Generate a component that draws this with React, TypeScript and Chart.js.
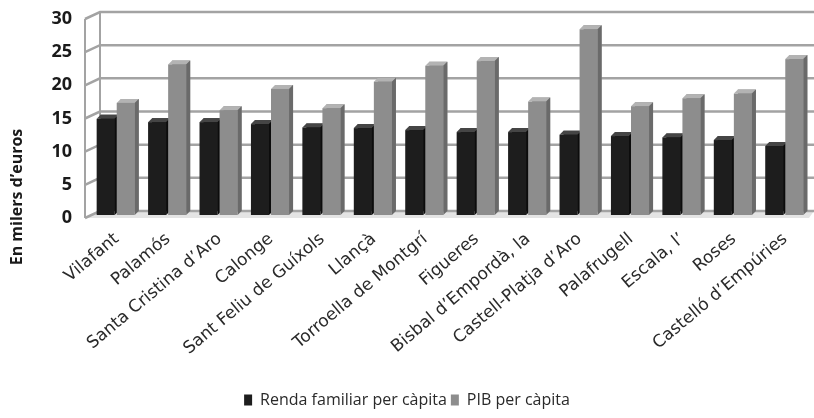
import React, { useEffect, useRef } from 'react';
import { Chart, registerables } from 'chart.js';

Chart.register(...registerables);

const categories = [
  'Vilafant',
  'Palamós',
  'Santa Cristina d’Aro',
  'Calonge',
  'Sant Feliu de Guíxols',
  'Llançà',
  'Torroella de Montgrí',
  'Figueres',
  'Bisbal d’Empordà, la',
  'Castell-Platja d’Aro',
  'Palafrugell',
  'Escala, l’',
  'Roses',
  'Castelló d’Empúries',
];

const rendaFamiliar = [14.5, 14.0, 14.0, 13.7, 13.2, 13.1, 12.8, 12.5, 12.5, 12.1, 11.9, 11.7, 11.3, 10.4];
const pibPerCapita = [16.9, 22.7, 15.8, 19.0, 16.1, 20.1, 22.5, 23.2, 17.1, 28.0, 16.4, 17.6, 18.3, 23.5];

const seriesNames = ['Renda familiar per càpita', 'PIB per càpita'];
const yTicks = [0, 5, 10, 15, 20, 25, 30];
const yTitle = 'En milers d’euros';

const DEPTH = 4;
const FACES = [
  { front: '#1d1d1d', top: '#454545', side: '#0c0c0c' },
  { front: '#8d8d8d', top: '#b3b3b3', side: '#6a6a6a' },
];

const wallPlugin = {
  id: 'wall3d',
  beforeDatasetsDraw(chart: any) {
    const { ctx, chartArea } = chart;
    const { left, right, top, bottom } = chartArea;
    const y = chart.scales.y;
    const back = left + 6;
    const front = left - 9;
    const off = 7;
    ctx.save();
    ctx.fillStyle = '#e4e4e4';
    ctx.beginPath();
    ctx.moveTo(front, bottom + off);
    ctx.lineTo(back, bottom);
    ctx.lineTo(right, bottom);
    ctx.lineTo(right - 5, bottom + off);
    ctx.closePath();
    ctx.fill();
    ctx.strokeStyle = '#a3a3a3';
    ctx.lineWidth = 2.5;
    yTicks.forEach((v) => {
      const py = y.getPixelForValue(v);
      ctx.beginPath();
      ctx.moveTo(front, py + off);
      ctx.lineTo(back, py);
      ctx.lineTo(right, py);
      ctx.stroke();
    });
    ctx.lineWidth = 2;
    ctx.beginPath();
    ctx.moveTo(back, top);
    ctx.lineTo(back, bottom);
    ctx.moveTo(front, top + off);
    ctx.lineTo(front, bottom + off);
    ctx.stroke();
    ctx.restore();
  },
};

const bar3dPlugin = {
  id: 'bar3d',
  afterDatasetsDraw(chart: any) {
    const ctx = chart.ctx;
    const metas = [chart.getDatasetMeta(0), chart.getDatasetMeta(1)];
    ctx.save();
    for (let i = 0; i < categories.length; i++) {
      metas.forEach((meta: any, di: number) => {
        const el = meta.data[i];
        if (!el) return;
        const { x, y, base, width } = el.getProps(['x', 'y', 'base', 'width'], true);
        const x0 = x - width / 2;
        const x1 = x + width / 2;
        const fx0 = x0 - DEPTH;
        const fx1 = x1 - DEPTH;
        const fy = y + DEPTH;
        const fb = base + DEPTH;
        const c = FACES[di];
        ctx.fillStyle = c.top;
        ctx.beginPath();
        ctx.moveTo(fx0, fy);
        ctx.lineTo(fx1, fy);
        ctx.lineTo(x1, y);
        ctx.lineTo(x0, y);
        ctx.closePath();
        ctx.fill();
        ctx.fillStyle = c.side;
        ctx.beginPath();
        ctx.moveTo(fx1, fy);
        ctx.lineTo(x1, y);
        ctx.lineTo(x1, base);
        ctx.lineTo(fx1, fb);
        ctx.closePath();
        ctx.fill();
        ctx.fillStyle = c.front;
        ctx.fillRect(fx0, fy, width, fb - fy);
      });
    }
    ctx.restore();
  },
};

const yTitlePlugin = {
  id: 'yTitle',
  afterDraw(chart: any) {
    const ctx = chart.ctx;
    ctx.save();
    ctx.translate(17, 197);
    ctx.rotate(-Math.PI / 2);
    ctx.font = 'bold 16px "Open Sans", sans-serif';
    ctx.fillStyle = '#1a1a1a';
    ctx.textAlign = 'center';
    ctx.textBaseline = 'middle';
    ctx.fillText(yTitle, 0, 0);
    ctx.restore();
  },
};

export default function App() {
  const canvasRef = useRef<HTMLCanvasElement | null>(null);

  useEffect(() => {
    if (!canvasRef.current) return;
    const chart = new Chart(canvasRef.current, {
      type: 'bar',
      data: {
        labels: categories,
        datasets: [
          {
            label: seriesNames[0],
            data: rendaFamiliar,
            backgroundColor: FACES[0].front,
            borderWidth: 0,
          },
          {
            label: seriesNames[1],
            data: pibPerCapita,
            backgroundColor: FACES[1].front,
            borderWidth: 0,
          },
        ],
      },
      options: {
        animation: false,
        responsive: true,
        maintainAspectRatio: false,
        layout: { padding: { top: 0, right: 0, left: 0, bottom: 0 } },
        datasets: {
          bar: { categoryPercentage: 0.78, barPercentage: 0.9 },
        },
        scales: {
          x: {
            grid: { display: false },
            border: { display: false },
            ticks: {
              autoSkip: false,
              maxRotation: 40,
              minRotation: 40,
              padding: 10,
              labelOffset: -3,
              color: '#2a2a2a',
              font: { family: '"DejaVu Sans", sans-serif', size: 17 },
            },
            afterFit: (scale: any) => {
              scale.height = 177;
              scale.paddingLeft = 0;
              scale.paddingRight = 0;
            },
          },
          y: {
            min: 0,
            max: 30,
            grid: { display: false, drawTicks: false },
            border: { display: false },
            ticks: {
              stepSize: 5,
              padding: 22,
              labelOffset: 7,
              color: '#1a1a1a',
              font: { family: '"Open Sans", sans-serif', size: 18, weight: 'bold' },
            },
            afterFit: (scale: any) => {
              scale.width = 94;
              scale.paddingTop = 12;
              scale.paddingBottom = 0;
            },
          },
        },
        plugins: {
          legend: {
            position: 'bottom',
            labels: {
              boxWidth: 8,
              boxHeight: 11,
              padding: 4,
              color: '#2a2a2a',
              font: { family: '"Open Sans", sans-serif', size: 16 },
            },
          },
          tooltip: { enabled: false },
        },
      },
      plugins: [wallPlugin, bar3dPlugin, yTitlePlugin],
    });
    return () => chart.destroy();
  }, []);

  return (
    <div style={{ position: 'fixed', left: 0, top: 0, width: 814, height: 418, background: '#fff' }}>
      <canvas ref={canvasRef} />
    </div>
  );
}
